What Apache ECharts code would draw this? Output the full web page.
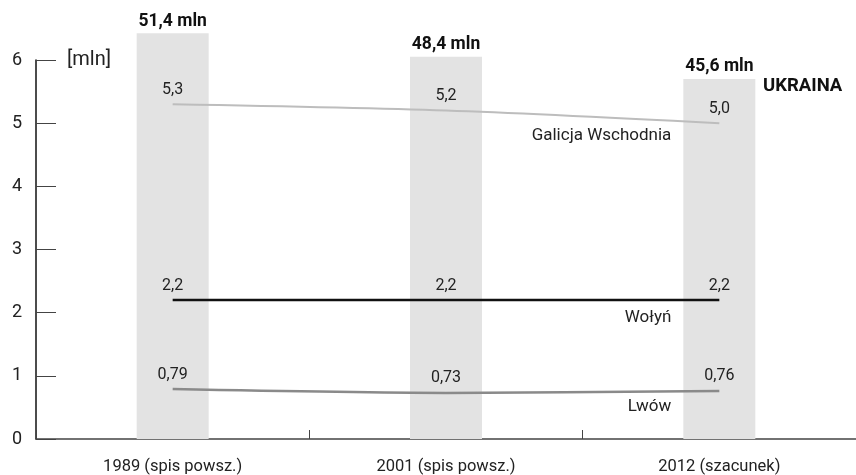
<!DOCTYPE html>
<html>
<head>
<meta charset="utf-8">
<script src="https://cdn.jsdelivr.net/npm/echarts@6/dist/echarts.min.js"></script>
<style>
  html, body { margin: 0; padding: 0; background: #fff; }
  #chart { width: 856px; height: 475px; }
</style>
</head>
<body>
<div id="chart"></div>
<script>
// Population figures, in millions
const categories = ['1989 (spis powsz.)', '2001 (spis powsz.)', '2012 (szacunek)'];
const ukraina = [51.4, 48.4, 45.6];
const galicja = [5.3, 5.2, 5.0];
const wolyn = [2.2, 2.2, 2.2];
const lwow = [0.79, 0.73, 0.76];
const yTicks = [0, 1, 2, 3, 4, 5, 6];

const FONT = 'Roboto, "Liberation Sans", sans-serif';
const comma = (v, d) => v.toFixed(d).replace('.', ',');

function lineSeries(name, data, color, width, decimals, nameOffset) {
  return {
    name: name,
    type: 'line',
    data: data,
    smooth: 0.3,
    // invisible symbols so that the value labels are still drawn
    symbol: 'circle',
    symbolSize: 1,
    showSymbol: true,
    itemStyle: { color: 'rgba(0,0,0,0)', borderWidth: 0 },
    z: 3,
    lineStyle: { color: color, width: width },
    label: {
      show: true,
      position: 'top',
      distance: 6,
      fontFamily: FONT,
      fontSize: 16,
      color: '#222',
      formatter: p => comma(p.value, decimals)
    },
    endLabel: {
      show: true,
      formatter: name,
      fontFamily: FONT,
      fontSize: 17,
      color: '#222',
      align: 'right',
      verticalAlign: 'middle',
      offset: nameOffset
    }
  };
}

const chart = echarts.init(document.getElementById('chart'), null, { renderer: 'canvas' });
chart.setOption({
  animation: false,
  backgroundColor: '#fff',
  grid: { left: 36, right: -2, top: 60, bottom: 33 },
  xAxis: {
    type: 'category',
    data: categories,
    boundaryGap: true,
    axisLine: { show: true, lineStyle: { color: '#444', width: 1.5 } },
    axisTick: { show: true, inside: true, length: 9, lineStyle: { color: '#444', width: 1 } },
    axisLabel: { fontFamily: FONT, fontSize: 16.5, color: '#222', margin: 19 }
  },
  yAxis: [
    {
      type: 'value',
      min: yTicks[0],
      max: yTicks[yTicks.length - 1],
      interval: 1,
      name: '[mln]',
      nameLocation: 'end',
      nameGap: 0,
      nameTextStyle: {
        fontFamily: FONT, fontSize: 20, color: '#222',
        align: 'left', verticalAlign: 'middle', padding: [0, 0, 0, 31]
      },
      axisLine: { show: true, lineStyle: { color: '#111', width: 1.5 } },
      axisTick: { show: true, inside: true, length: 20, lineStyle: { color: '#444', width: 1 } },
      axisLabel: { fontFamily: FONT, fontSize: 18, color: '#222', margin: 14 },
      splitLine: { show: false }
    },
    {
      // hidden scale for the country totals: 8 mln per gridline unit
      type: 'value',
      min: 0,
      max: 48,
      show: false,
      splitLine: { show: false }
    }
  ],
  graphic: [
    {
      type: 'text',
      left: 763,
      top: 77,
      style: { text: 'UKRAINA', fontFamily: FONT, fontSize: 18.5, fontWeight: 'bold', fill: '#111' }
    }
  ],
  series: [
    {
      name: 'Ukraina',
      type: 'bar',
      yAxisIndex: 1,
      data: ukraina,
      barWidth: 72,
      clip: false,
      z: 1,
      itemStyle: { color: '#e3e3e3' },
      label: {
        show: true,
        position: 'top',
        distance: 3,
        fontFamily: FONT,
        fontSize: 17.5,
        fontWeight: 'bold',
        color: '#111',
        formatter: p => comma(p.value, 1) + ' mln'
      }
    },
    lineSeries('Galicja Wschodnia', galicja, '#bdbdbd', 2, 1, [-56, 13]),
    lineSeries('Wołyń', wolyn, '#111', 2.5, 1, [-56, 18]),
    lineSeries('Lwów', lwow, '#8a8a8a', 2.5, 2, [-56, 16])
  ]
});
</script>
</body>
</html>
